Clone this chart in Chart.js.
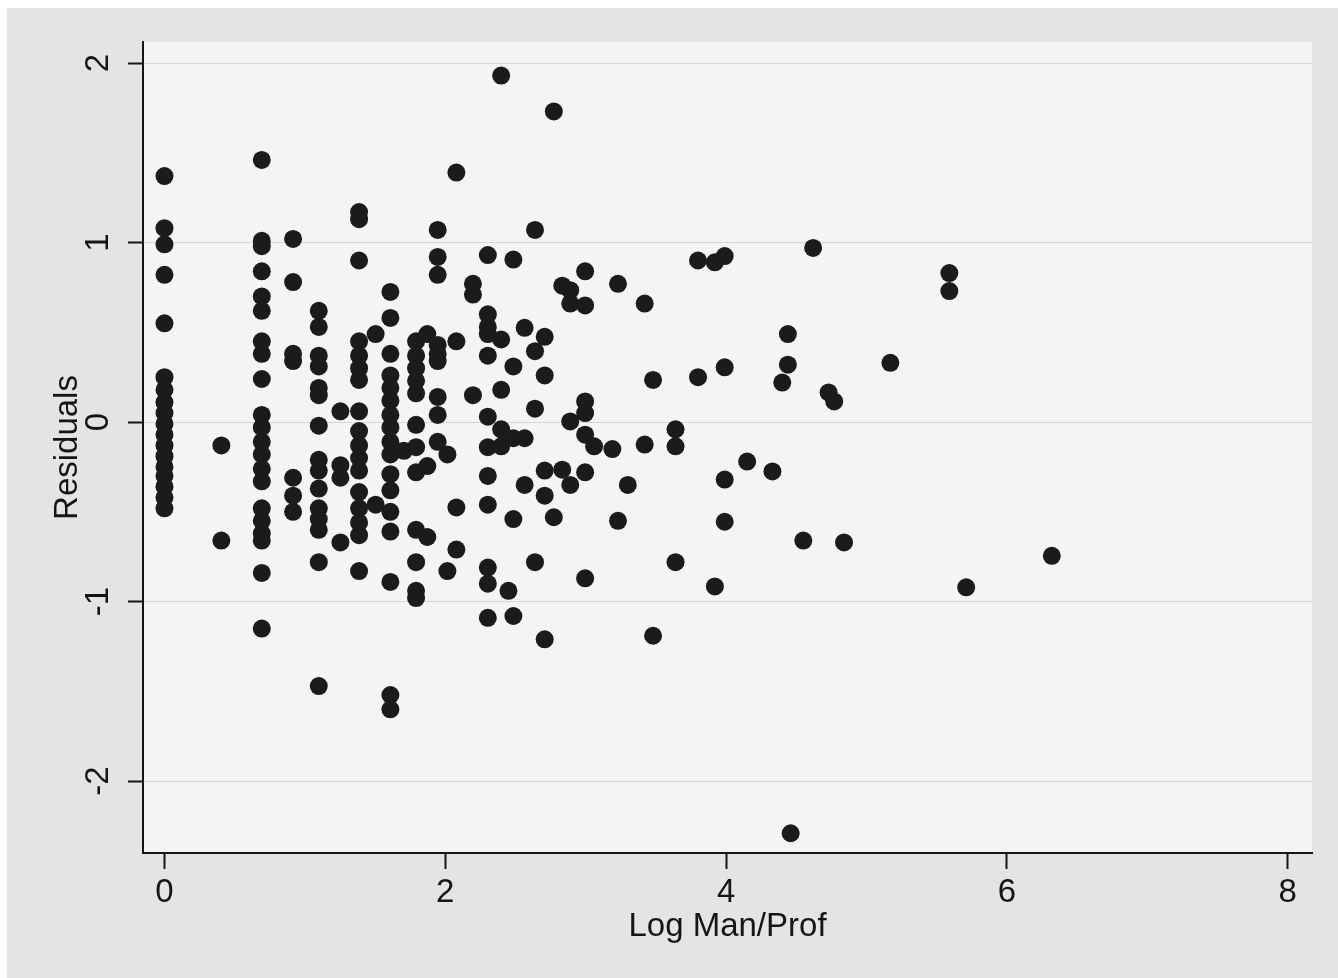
<!DOCTYPE html>
<html>
<head>
<meta charset="utf-8">
<title>Residuals vs Log Man/Prof</title>
<script src="https://cdn.jsdelivr.net/npm/chart.js@4.4.1/dist/chart.umd.min.js"></script>
<style>
  html, body { margin: 0; padding: 0; background: #ffffff; }
  canvas { display: block; }
</style>
</head>
<body>
<canvas id="grafResid" width="1338" height="978"></canvas>
<script>
// Residual plot: residuals against log manual/professional ratio, one column per distinct x value

const columnX = [
  0, 0.405, 0.693, 0.916, 1.099, 1.253, 1.386, 1.504, 1.609, 1.705,
  1.792, 1.872, 1.946, 2.015, 2.079, 2.197, 2.303, 2.398, 2.45, 2.485,
  2.565, 2.639, 2.708, 2.773, 2.833, 2.89, 2.996, 3.06, 3.19, 3.23,
  3.30, 3.42, 3.48, 3.64, 3.80, 3.92, 3.99, 4.15, 4.33, 4.40,
  4.44, 4.46, 4.55, 4.62, 4.73, 4.77, 4.84, 5.17, 5.59, 5.71, 6.32
];

const columnResiduals = [
  [1.37, 1.08, 0.99, 0.82, 0.55, 0.25, 0.18, 0.11, 0.05, -0.01, -0.07, -0.13, -0.19, -0.25, -0.3, -0.36, -0.42, -0.48],
  [-0.13, -0.66],
  [1.46, 1.01, 0.98, 0.84, 0.70, 0.62, 0.45, 0.38, 0.24, 0.04, -0.03, -0.11, -0.18, -0.26, -0.33, -0.48, -0.55, -0.62, -0.66, -0.84, -1.15],
  [1.02, 0.78, 0.38, 0.34, -0.31, -0.41, -0.50],
  [0.62, 0.53, 0.37, 0.31, 0.19, 0.15, -0.02, -0.21, -0.27, -0.37, -0.48, -0.54, -0.6, -0.78, -1.47],
  [0.06, -0.24, -0.31, -0.67],
  [1.17, 1.13, 0.9, 0.45, 0.37, 0.3, 0.235, 0.06, -0.05, -0.13, -0.2, -0.27, -0.39, -0.48, -0.56, -0.63, -0.83],
  [0.49, -0.46],
  [0.725, 0.58, 0.38, 0.26, 0.19, 0.12, 0.04, -0.03, -0.11, -0.18, -0.29, -0.38, -0.5, -0.61, -0.89, -1.52, -1.6],
  [-0.16],
  [0.45, 0.37, 0.3, 0.23, 0.16, -0.015, -0.14, -0.28, -0.6, -0.78, -0.94, -0.98],
  [0.49, -0.245, -0.64],
  [1.07, 0.92, 0.82, 0.43, 0.38, 0.34, 0.14, 0.04, -0.11],
  [-0.18, -0.83],
  [1.39, 0.45, -0.475, -0.71],
  [0.77, 0.71, 0.15],
  [0.93, 0.6, 0.53, 0.49, 0.37, 0.03, -0.14, -0.3, -0.46, -0.81, -0.9, -1.09],
  [1.93, 0.46, 0.18, -0.04, -0.135],
  [-0.94],
  [0.905, 0.31, -0.09, -0.54, -1.08],
  [0.525, -0.09, -0.35],
  [1.07, 0.395, 0.075, -0.78],
  [0.475, 0.26, -0.27, -0.41, -1.21],
  [1.73, -0.53],
  [0.76, -0.265],
  [0.735, 0.66, 0.004, -0.35],
  [0.84, 0.65, 0.115, 0.05, -0.07, -0.28, -0.87],
  [-0.135],
  [-0.15],
  [0.77, -0.55],
  [-0.35],
  [0.66, -0.125],
  [0.235, -1.19],
  [-0.04, -0.135, -0.78],
  [0.9, 0.25],
  [0.89, -0.915],
  [0.925, 0.305, -0.32, -0.555],
  [-0.22],
  [-0.275],
  [0.22],
  [0.49, 0.32],
  [-2.29],
  [-0.66],
  [0.97],
  [0.165],
  [0.115],
  [-0.67],
  [0.33],
  [0.83, 0.73],
  [-0.92],
  [-0.745]
];

const xTicksStep = 2;
const yTicksStep = 1;
const xTitle = "Log Man/Prof";
const yTitle = "Residuals";

const tinta = "#151515";
const fuente = { family: "'Liberation Sans', Arial, sans-serif", size: 33 };

function construirPuntos() {
  const puntos = [];
  columnX.forEach((x, i) => {
    columnResiduals[i].forEach(r => puntos.push({ x: x, y: r }));
  });
  return puntos;
}

// gray page panel plus the lighter plot region
const fondoPanel = {
  id: "fondoPanel",
  beforeDraw(chart) {
    const { ctx, chartArea, width, height } = chart;
    ctx.save();
    ctx.fillStyle = "#ffffff";
    ctx.fillRect(0, 0, width, height);
    ctx.fillStyle = "#e4e4e4";
    ctx.fillRect(7, 8, width - 7, height - 8);
    ctx.fillStyle = "#f4f4f4";
    ctx.fillRect(chartArea.left, chartArea.top, chartArea.right - chartArea.left, chartArea.bottom - chartArea.top);
    ctx.restore();
  }
};

const ctxR = document.getElementById("grafResid").getContext("2d");
const chartResid = new Chart(ctxR, {
  type: "scatter",
  data: {
    datasets: [{
      data: construirPuntos(),
      backgroundColor: "#1b1b1b",
      borderWidth: 0,
      pointRadius: 9,
      pointHoverRadius: 9
    }]
  },
  options: {
    responsive: false,
    animation: false,
    layout: { padding: { top: 42, right: 26, left: 0, bottom: 0 } },
    plugins: {
      legend: { display: false },
      tooltip: { enabled: false }
    },
    scales: {
      x: {
        type: "linear",
        min: -0.153,
        max: 8.173,
        afterFit: s => { s.height = 125; },
        ticks: { stepSize: xTicksStep, includeBounds: false, padding: 4, color: tinta, font: fuente },
        grid: { drawOnChartArea: false, tickLength: 16, tickWidth: 2, tickColor: tinta },
        border: { color: tinta, width: 2 },
        title: { display: true, text: xTitle, color: tinta, font: fuente, padding: { top: 0, bottom: 31 } }
      },
      y: {
        type: "linear",
        min: -2.4,
        max: 2.117,
        afterFit: s => { s.width = 143; },
        ticks: {
          stepSize: yTicksStep, includeBounds: false, minRotation: 90, maxRotation: 90,
          crossAlign: "center", padding: 14, color: tinta, font: fuente
        },
        grid: { color: "#d6d6d6", lineWidth: 1, tickLength: 15, tickWidth: 2, tickColor: tinta },
        border: { color: tinta, width: 2 },
        title: { display: true, text: yTitle, color: tinta, font: fuente, padding: { top: 48, bottom: 0 } }
      }
    }
  },
  plugins: [fondoPanel]
});
</script>
</body>
</html>
